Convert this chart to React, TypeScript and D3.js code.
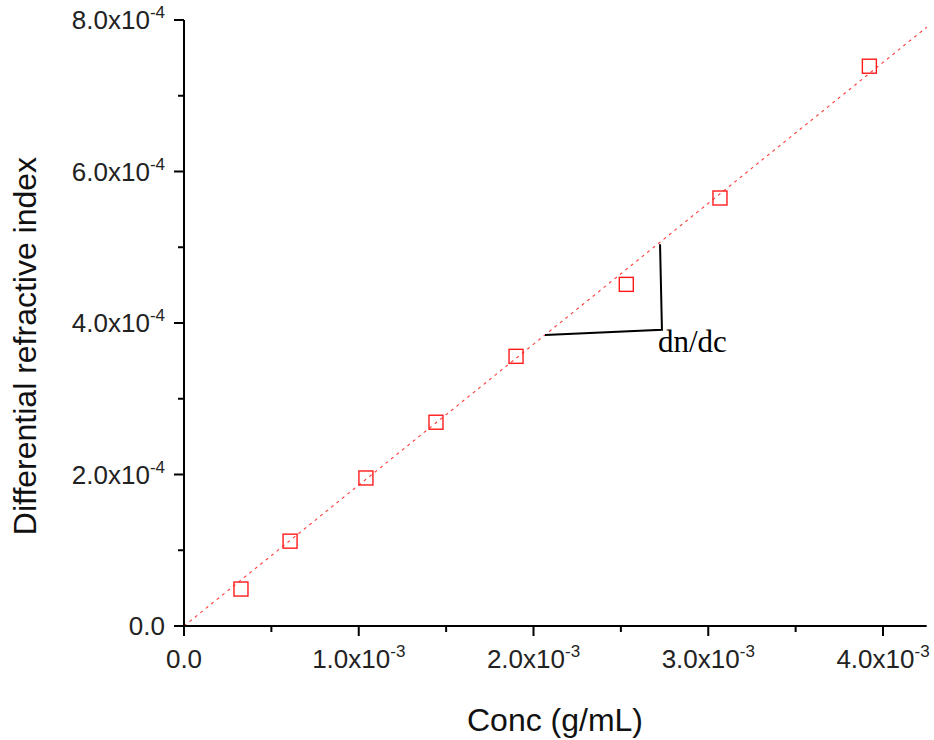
import React from "react";
import * as d3 from "d3";

// Concentration (g/mL) and measured differential refractive index
const concValues = [0.326e-3, 0.607e-3, 1.041e-3, 1.442e-3, 1.9e-3, 2.531e-3, 3.067e-3, 3.922e-3];
const dnValues = [4.88e-5, 1.12e-4, 1.954e-4, 2.69e-4, 3.56e-4, 4.51e-4, 5.65e-4, 7.39e-4];

// Linear fit through the origin: dn = slope * c
const fitSlope = 0.186;
const fitRange = [0, 4.25e-3];

const xMajorTicks = [0, 1e-3, 2e-3, 3e-3, 4e-3];
const xMinorTicks = [0.5e-3, 1.5e-3, 2.5e-3, 3.5e-3];
const xTickMantissa = ["0.0", "1.0", "2.0", "3.0", "4.0"];
const xTickExponent = ["", "-3", "-3", "-3", "-3"];

const yMajorTicks = [0, 2e-4, 4e-4, 6e-4, 8e-4];
const yMinorTicks = [1e-4, 3e-4, 5e-4, 7e-4];
const yTickMantissa = ["0.0", "2.0", "4.0", "6.0", "8.0"];
const yTickExponent = ["", "-4", "-4", "-4", "-4"];

// dn/dc slope bracket (data coordinates)
const bracketX = [2.066e-3, 2.735e-3, 2.724e-3];
const bracketY = [3.84e-4, 3.91e-4, 5.04e-4];
const bracketLabel = "dn/dc";
const bracketLabelPos = [2.712e-3, 3.62e-4];

const xTitle = "Conc (g/mL)";
const yTitle = "Differential refractive index";

const W = 934;
const H = 740;
const sans = "'Liberation Sans', Arial, sans-serif";
const serif = "'Liberation Serif', 'Times New Roman', serif";

export default function App() {
  const x = d3.scaleLinear().domain([0, 4.25e-3]).range([184, 926.7]);
  const y = d3.scaleLinear().domain([0, 8e-4]).range([626, 20]);

  const fitLine = d3
    .line<number>()
    .x((c) => x(c))
    .y((c) => y(c * fitSlope));

  const bracketPts = bracketX.map((bx, i) => [x(bx), y(bracketY[i])] as [number, number]);
  const bracketPath = d3.line()(bracketPts) || "";

  const [x0, x1] = x.range();
  const [y0, y1] = y.range();
  const half = 7;

  return (
    <svg
      width={W}
      height={H}
      style={{ position: "absolute", left: 0, top: 0, background: "#fff" }}
    >
      {/* fit line */}
      <path
        d={fitLine(fitRange) || ""}
        fill="none"
        stroke="#ff3b3b"
        strokeWidth={1.1}
        strokeDasharray="3,4"
      />

      {/* data markers */}
      {concValues.map((c, i) => (
        <rect
          key={i}
          x={x(c) - half}
          y={y(dnValues[i]) - half}
          width={half * 2}
          height={half * 2}
          fill="none"
          stroke="#ff1a1a"
          strokeWidth={1.4}
        />
      ))}

      {/* axes */}
      <g stroke="#000" strokeWidth={2} fill="none">
        <line x1={x0} x2={x1} y1={y0} y2={y0} />
        <line x1={x0} x2={x0} y1={y0} y2={y1} />
        {xMajorTicks.map((t) => (
          <line key={"xM" + t} x1={x(t)} x2={x(t)} y1={y0} y2={y0 + 10} />
        ))}
        {xMinorTicks.map((t) => (
          <line key={"xm" + t} x1={x(t)} x2={x(t)} y1={y0} y2={y0 + 6} />
        ))}
        {yMajorTicks.map((t) => (
          <line key={"yM" + t} x1={x0 - 10} x2={x0} y1={y(t)} y2={y(t)} />
        ))}
        {yMinorTicks.map((t) => (
          <line key={"ym" + t} x1={x0 - 6} x2={x0} y1={y(t)} y2={y(t)} />
        ))}
      </g>

      {/* tick labels */}
      <g fontFamily={sans} fontSize={26} fill="#222">
        {xMajorTicks.map((t, i) => (
          <text key={"xl" + t} x={x(t)} y={668} textAnchor="middle">
            {xTickMantissa[i]}
            {xTickExponent[i] ? (
              <>
                <tspan>x10</tspan>
                <tspan dy={-11} fontSize={17}>
                  {xTickExponent[i]}
                </tspan>
              </>
            ) : null}
          </text>
        ))}
        {yMajorTicks.map((t, i) => (
          <text key={"yl" + t} x={x0 - 19} y={y(t) + 9} textAnchor="end">
            {yTickMantissa[i]}
            {yTickExponent[i] ? (
              <>
                <tspan>x10</tspan>
                <tspan dy={-11} fontSize={17}>
                  {yTickExponent[i]}
                </tspan>
              </>
            ) : null}
          </text>
        ))}
      </g>

      {/* axis titles */}
      <text
        x={555}
        y={731}
        textAnchor="middle"
        fontFamily={sans}
        fontSize={32}
        fill="#111"
      >
        {xTitle}
      </text>
      <text
        transform={`translate(36,${346}) rotate(-90)`}
        textAnchor="middle"
        fontFamily={sans}
        fontSize={32}
        fill="#111"
      >
        {yTitle}
      </text>

      {/* slope bracket */}
      <path d={bracketPath} fill="none" stroke="#000" strokeWidth={2} />
      <text
        x={x(bracketLabelPos[0])}
        y={y(bracketLabelPos[1])}
        fontFamily={serif}
        fontSize={31}
        fill="#000"
      >
        {bracketLabel}
      </text>
    </svg>
  );
}
